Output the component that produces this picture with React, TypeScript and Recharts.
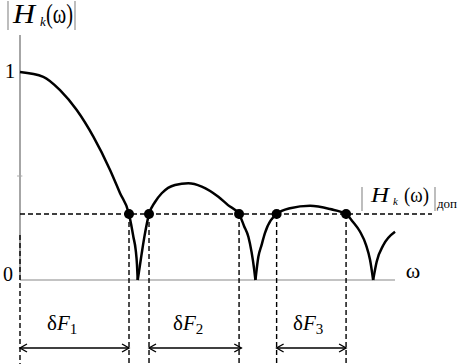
import { ComposedChart, Line, Scatter, XAxis, YAxis, ReferenceLine } from 'recharts';

// lobes of |Hk(w)|, w scaled so the zeros fall on 1, 2, 3
const lobe1W = [0, 0.198, 0.34, 0.482, 0.623, 0.765, 0.85, 0.926, 0.943, 0.963, 0.983, 0.994, 1.0];
const lobe1H = [1, 0.977, 0.913, 0.817, 0.689, 0.529, 0.417, 0.317, 0.27, 0.208, 0.144, 0.072, 0];
const lobe2W = [1.0, 1.034, 1.058, 1.096, 1.147, 1.204, 1.317, 1.43, 1.544, 1.685, 1.767, 1.861, 1.903, 1.94, 1.967, 1.99, 2.0];
const lobe2H = [0, 0.128, 0.212, 0.317, 0.375, 0.417, 0.457, 0.465, 0.449, 0.4, 0.36, 0.317, 0.26, 0.208, 0.135, 0.048, 0];
const lobe3W = [2.0, 2.025, 2.052, 2.08, 2.18, 2.294, 2.464, 2.634, 2.77, 2.829, 2.889, 2.94, 2.974, 3.0];
const lobe3H = [0, 0.112, 0.168, 0.224, 0.317, 0.345, 0.357, 0.341, 0.317, 0.279, 0.232, 0.168, 0.096, 0];
const lobe4W = [3.0, 3.03, 3.087, 3.186];
const lobe4H = [0, 0.088, 0.168, 0.232];

const level = 0.317; // |Hk(w)| доп
const crossW = [0.926, 1.096, 1.861, 2.18, 2.77];
const bandFrom = [0, 1.096, 2.18];
const bandTo = [0.926, 1.88, 2.77];
const bandLabels = ['1', '2', '3'];
const bandTextX = [47, 173, 293];

const axisEnd = 3.186;
const yTop = 1.178;
const yBottom = -0.404;
const arrowY = -0.327;

const toRows = (w: number[], h: number[]) => w.map((x, i) => ({ w: x, h: h[i] }));
const lobes = [toRows(lobe1W, lobe1H), toRows(lobe2W, lobe2H), toRows(lobe3W, lobe3H), toRows(lobe4W, lobe4H)];
const dots = crossW.map((w) => ({ w, h: level }));

const serif = '"Liberation Serif", "Times New Roman", Times, serif';
const dash = '5 3';
const txt = { fontFamily: serif };

const Arrow = (props: any) => {
  const { x1, y1, x2, y2 } = props;
  const a = 7;
  const b = 4;
  return (
    <g stroke="#000" strokeWidth={1.4} fill="none">
      <line x1={x1} y1={y1} x2={x2} y2={y2} />
      <polyline points={`${x1 + a},${y1 - b} ${x1},${y1} ${x1 + a},${y1 + b}`} />
      <polyline points={`${x2 - a},${y2 - b} ${x2},${y2} ${x2 - a},${y2 + b}`} />
    </g>
  );
};

// |H_k(ω)| drawn piece by piece, widths
const HLabel = ({ bar1, h, hw, k, ks, par, pw, bar2, y, size, barTop, barBottom }: any) => (
  <g>
    <line x1={bar1} y1={barTop} x2={bar1} y2={barBottom} stroke="#888" strokeWidth={1.1} />
    <text x={h} y={y} fontSize={size} fontStyle="italic" style={txt} textLength={hw} lengthAdjust="spacingAndGlyphs">H</text>
    <text x={k} y={y + 3} fontSize={ks} fontStyle="italic" style={txt}>k</text>
    <text x={par} y={y} fontSize={size} style={txt} textLength={pw} lengthAdjust="spacingAndGlyphs">(ω)</text>
    <line x1={bar2} y1={barTop} x2={bar2} y2={barBottom} stroke="#888" strokeWidth={1.1} />
  </g>
);

export default function App() {
  return (
    <div style={{ position: 'fixed', left: 0, top: 0, background: '#fff' }}>
      <ComposedChart width={458} height={364} margin={{ top: 35, right: 26, bottom: 0, left: 20 }}>
        <XAxis type="number" dataKey="w" domain={[0, 3.5]} hide />
        <YAxis type="number" domain={[yBottom, yTop]} hide />

        <ReferenceLine segment={[{ x: 0, y: 0 }, { x: 0, y: yTop }]} stroke="#888" strokeWidth={1.5} ifOverflow="visible" />
        <ReferenceLine segment={[{ x: 0, y: 0 }, { x: axisEnd, y: 0 }]} stroke="#888" strokeWidth={1.2} ifOverflow="visible" />
        <ReferenceLine segment={[{ x: -0.025, y: 0.5 }, { x: 0.02, y: 0.5 }]} stroke="#aaa" ifOverflow="visible" />

        <ReferenceLine y={level} stroke="#000" strokeWidth={1.4} strokeDasharray={dash} />
        <ReferenceLine segment={[{ x: 0, y: 0.216 }, { x: 0, y: yBottom }]} stroke="#000" strokeWidth={1.4} strokeDasharray={dash} ifOverflow="visible" />
        {crossW.map((w) => (
          <ReferenceLine key={w} segment={[{ x: w, y: level }, { x: w, y: yBottom }]} stroke="#000" strokeWidth={1.4} strokeDasharray={dash} ifOverflow="visible" />
        ))}
        {bandFrom.map((w, i) => (
          <ReferenceLine key={'a' + i} segment={[{ x: w, y: arrowY }, { x: bandTo[i], y: arrowY }]} shape={<Arrow />} ifOverflow="visible" />
        ))}

        {lobes.map((rows, i) => (
          <Line key={i} data={rows} dataKey="h" type="monotone" stroke="#000" strokeWidth={2.5} dot={false} isAnimationActive={false} />
        ))}
        <Scatter data={dots} dataKey="h" fill="#000" isAnimationActive={false}
          shape={(p: any) => <circle cx={p.cx} cy={p.cy} r={5} fill="#000" />} />

        <HLabel bar1={8} h={13} hw={22} k={40} ks={13} par={46} pw={27} bar2={75} y={23} size={27} barTop={1} barBottom={30} />
        <HLabel bar1={362} h={371} hw={18} k={393} ks={11} par={404} pw={25} bar2={435} y={202} size={21} barTop={187} barBottom={211} />
        <text x={437} y={208} fontSize={13} style={txt}>доп</text>

        <text x={10} y={78} fontSize={21} textAnchor="middle" style={txt}>1</text>
        <text x={8} y={281} fontSize={20} textAnchor="middle" style={txt}>0</text>
        <text x={413} y={278} fontSize={22} textAnchor="middle" style={txt}>ω</text>

        {bandLabels.map((n, i) => (
          <text key={n} x={bandTextX[i]} y={330} fontSize={21} style={txt}>
            δ<tspan fontStyle="italic">F</tspan>
            <tspan fontSize={15} dy={4}>{n}</tspan>
          </text>
        ))}
      </ComposedChart>
    </div>
  );
}
